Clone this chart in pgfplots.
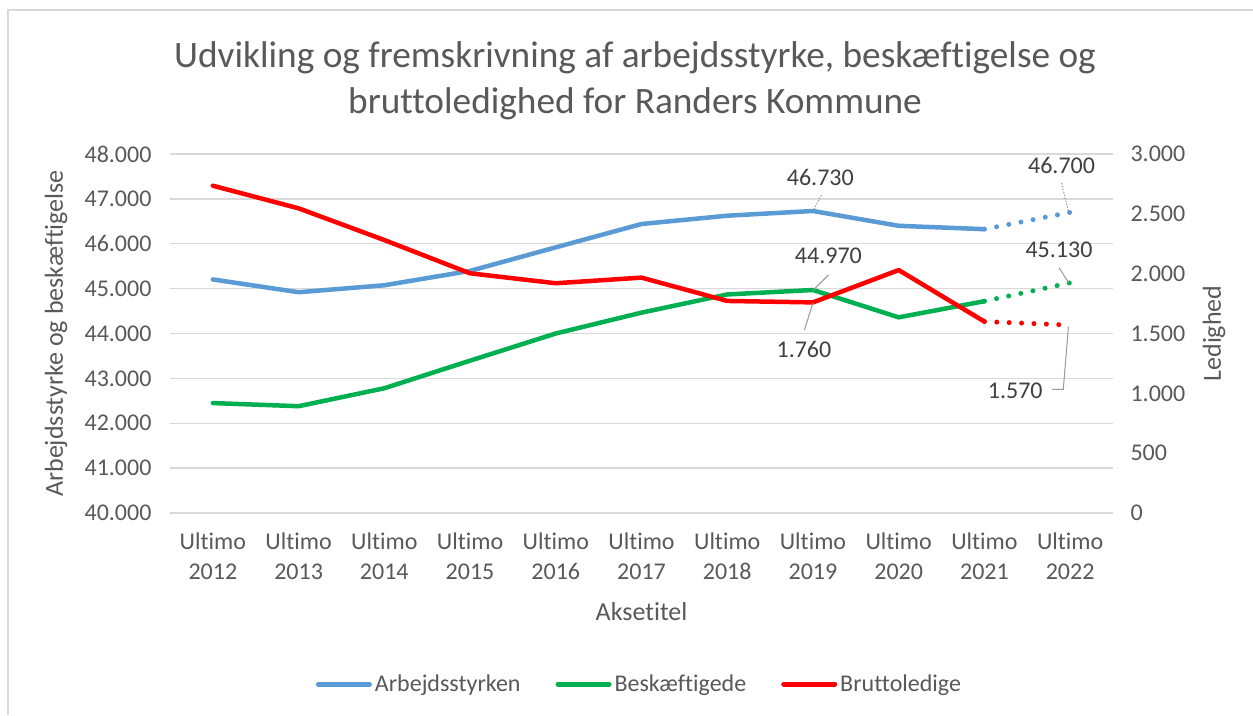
\documentclass[border=0pt]{standalone}
\usepackage{pgfplots}
\pgfplotsset{compat=1.18}
\usepackage{pgfplotstable}
\usepackage{fontspec}
\setmainfont{Carlito}[Ligatures={NoCommon}]
\definecolor{cblue}{HTML}{5B9BD5}
\definecolor{cgreen}{HTML}{00B050}
\definecolor{cred}{HTML}{FF0000}
\definecolor{ctext}{HTML}{595959}
\definecolor{clab}{HTML}{404040}
\definecolor{cgrid}{HTML}{D9D9D9}

\pgfplotstableread{
x arb besk
0 45205 42450
1 44920 42380
2 45075 42780
3 45395 43395
4 45920 44000
5 46440 44465
6 46625 44870
7 46730 44970
8 46400 44360
9 46325 44720
}\tblA
\pgfplotstableread{
x arb besk
9 46325 44720
10 46700 45130
}\tblAp
\pgfplotstableread{
x led
0 2735
1 2546
2 2281
3 2003
4 1920
5 1967
6 1772
7 1760
8 2030
9 1600
}\tblB
\pgfplotstableread{
x led
9 1600
10 1570
}\tblBp

\begin{document}
\begin{tikzpicture}[x=1pt,y=1pt]
\useasboundingbox (0,0) rectangle (1253,-715);
\fill[white] (0,0) rectangle (1253,-715);
\draw[cgrid, line width=1.5pt] (8,-715) -- (8,-10) -- (1253,-10);
\node[text=ctext, anchor=base, font=\fontsize{37.3}{45}\selectfont] at (635,-67)
  {Udvikling og fremskrivning af arbejdsstyrke, beskæftigelse og};
\node[text=ctext, anchor=base, font=\fontsize{37.3}{45}\selectfont] at (635,-113)
  {bruttoledighed for Randers Kommune};
\node[text=ctext, rotate=90, font=\fontsize{26}{30}\selectfont] at (56,-333.5) {Arbejdsstyrke og beskæftigelse};
\node[text=ctext, rotate=90, font=\fontsize{26}{30}\selectfont] at (1214,-333.5) {Ledighed};
\node[text=ctext, anchor=base, font=\fontsize{26}{30}\selectfont] at (641.5,-620) {Aksetitel};

\begin{axis}[
  at={(170pt,-513pt)}, anchor=south west,
  scale only axis, width=943pt, height=359pt,
  xmin=-0.5, xmax=10.5, ymin=40000, ymax=48000,
  xtick={0,...,10},
  xticklabels={{Ultimo\\2012},{Ultimo\\2013},{Ultimo\\2014},{Ultimo\\2015},{Ultimo\\2016},{Ultimo\\2017},{Ultimo\\2018},{Ultimo\\2019},{Ultimo\\2020},{Ultimo\\2021},{Ultimo\\2022}},
  ytick={40000,41000,...,48000},
  scaled y ticks=false,
  ymajorgrids, grid style={cgrid, line width=1.3pt},
  axis line style={draw=none}, major tick length=0pt,
  tick label style={font=\fontsize{24}{30}\selectfont, text=ctext},
  /pgf/number format/1000 sep={.},
  /pgf/number format/assume math mode=true,
  xticklabel style={align=center, yshift=-16pt},
  yticklabel style={xshift=-15pt},
  legend columns=3,
  legend style={at={(0.4968,-0.4763)}, anchor=center, draw=none, fill=none,
    font=\fontsize{24}{28}\selectfont, text=ctext,
    /tikz/every odd column/.append style={column sep=3pt},
    /tikz/every even column/.append style={column sep=35pt},
    nodes={inner sep=0pt}},
  legend image code/.code={\draw[#1, line width=5pt, line cap=round] (2.5pt,0pt) -- (53.5pt,0pt);},
  clip=false,
]
\addplot[cblue, line width=4.5pt, line join=round, line cap=round] table[x=x,y=arb] {\tblA};
\addlegendentry{Arbejdsstyrken}
\addplot[cgreen, line width=4.5pt, line join=round, line cap=round] table[x=x,y=besk] {\tblA};
\addlegendentry{Beskæftigede}
\addlegendimage{cred, line width=5pt}
\addlegendentry{Bruttoledige}
\addplot[cblue, line width=5pt, line cap=round, dash pattern=on 0pt off 12.4pt, forget plot] table[x=x,y=arb] {\tblAp};
\addplot[cgreen, line width=5pt, line cap=round, dash pattern=on 0pt off 12.4pt, forget plot] table[x=x,y=besk] {\tblAp};
% data labels
\draw[gray!80, line width=1pt, dash pattern=on 1.5pt off 1.5pt] (axis cs:7.10,47087) -- (axis cs:7.007,46752);
\draw[gray!80, line width=1pt, dash pattern=on 1.5pt off 1.5pt] (axis cs:9.90,47354) -- (axis cs:9.98,46720);
\draw[gray!80, line width=1pt] (axis cs:7.18,45303) -- (axis cs:7.0,44960);
\draw[gray!80, line width=1pt] (axis cs:9.87,45466) -- (axis cs:9.98,45140);
\node[text=clab, font=\fontsize{24}{28}\selectfont] at (axis cs:7.086,47487) {46.730};
\node[text=clab, font=\fontsize{24}{28}\selectfont] at (axis cs:9.90,47733) {46.700};
\node[text=clab, font=\fontsize{24}{28}\selectfont] at (axis cs:7.18,45727) {44.970};
\node[text=clab, font=\fontsize{24}{28}\selectfont] at (axis cs:9.87,45872) {45.130};
\end{axis}

\begin{axis}[
  at={(170pt,-513pt)}, anchor=south west,
  scale only axis, width=943pt, height=359pt,
  xmin=-0.5, xmax=10.5, ymin=0, ymax=3000,
  axis y line*=right, axis x line=none,
  ytick={0,500,...,3000},
  scaled y ticks=false,
  axis line style={draw=none}, major tick length=0pt,
  tick label style={font=\fontsize{24}{30}\selectfont, text=ctext},
  /pgf/number format/1000 sep={.},
  /pgf/number format/assume math mode=true,
  yticklabel style={xshift=14pt},
  clip=false,
]
\addplot[cred, line width=4.5pt, line join=round, line cap=round] table[x=x,y=led] {\tblB};
\addplot[cred, line width=5pt, line cap=round, dash pattern=on 0pt off 12.4pt] table[x=x,y=led] {\tblBp};
\draw[gray!80, line width=1pt] (axis cs:6.90,1529) -- (axis cs:7.0,1755);
\draw[gray!80, line width=1pt] (axis cs:9.79,1034) -- (axis cs:9.92,1034) -- (axis cs:9.98,1557);
\node[text=clab, font=\fontsize{24}{28}\selectfont] at (axis cs:6.895,1366) {1.760};
\node[text=clab, font=\fontsize{24}{28}\selectfont] at (axis cs:9.36,1024) {1.570};
\end{axis}
\end{tikzpicture}
\end{document}
